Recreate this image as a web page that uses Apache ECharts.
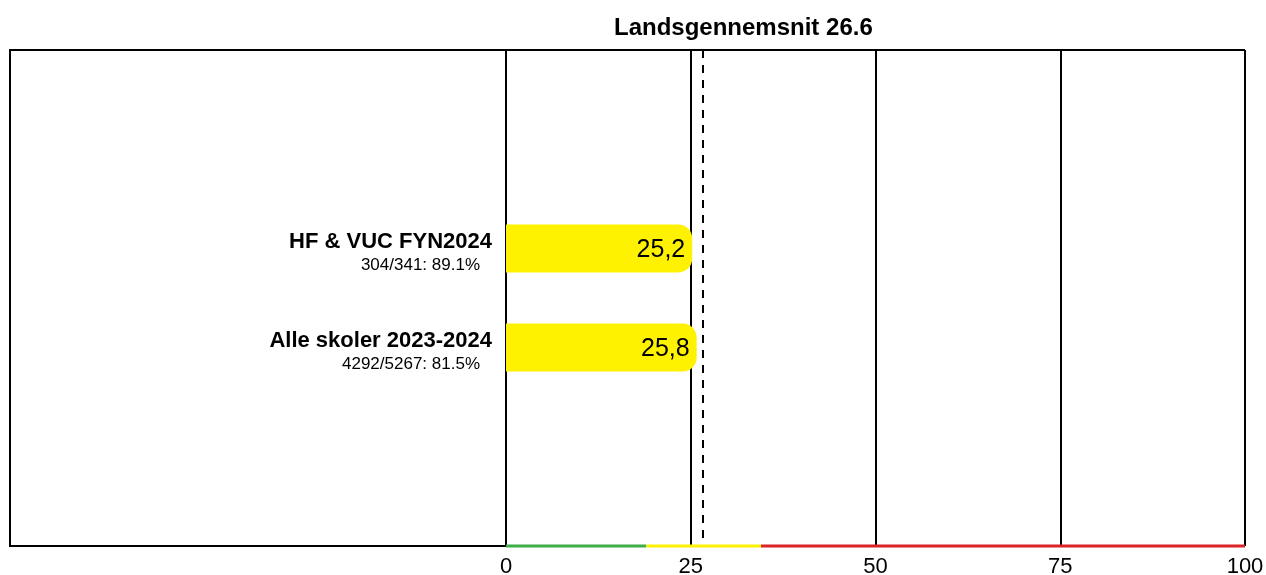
<!DOCTYPE html>
<html>
<head>
<meta charset="utf-8">
<script src="https://cdn.jsdelivr.net/npm/echarts@6/dist/echarts.min.js"></script>
<style>
  html, body { margin: 0; padding: 0; background: #fff; }
  #chart { width: 1266px; height: 575px; }
</style>
</head>
<body>
<div id="chart"></div>
<script>
// data
var categories = ['', '', 'HF & VUC FYN2024', 'Alle skoler 2023-2024', '', ''];
var subLabels = ['', '', '304/341: 89.1%', '4292/5267: 81.5%', '', ''];
var values = [null, null, 25.2, 25.8, null, null];
var average = 26.6;
var xTicks = [0, 25, 50, 75, 100];
var bandEdges = [0, 19, 34.5, 100];
var bandColors = ['#3fae49', '#fff200', '#dc2328'];

var FONT = '"Liberation Sans", Arial, sans-serif';

var chart = echarts.init(document.getElementById('chart'));

// coloured strip on the bottom axis
var bandSeries = [];
for (var i = 0; i < bandColors.length; i++) {
    bandSeries.push({
        type: 'line',
        xAxisIndex: 0,
        yAxisIndex: 1,
        data: [[bandEdges[i], 0], [bandEdges[i + 1], 0]],
        symbol: 'none',
        clip: false,
        silent: true,
        z: 5,
        lineStyle: { color: bandColors[i], width: 3 }
    });
}

var option = {
    animation: false,
    textStyle: { fontFamily: FONT },
    title: {
        text: 'Landsgennemsnit ' + average,
        left: 614,
        top: 16,
        padding: 0,
        textStyle: { fontFamily: FONT, fontSize: 24, fontWeight: 'bold', color: '#000' }
    },
    grid: { left: 506, right: 21, top: 50, bottom: 29, containLabel: false, outerBoundsMode: 'none' },
    xAxis: {
        type: 'value',
        min: xTicks[0],
        max: xTicks[xTicks.length - 1],
        interval: 25,
        axisLine: { show: false },
        axisTick: { show: false },
        axisLabel: { fontSize: 22, color: '#000', margin: 10, fontFamily: FONT },
        splitLine: { show: true, lineStyle: { color: '#000', width: 2 } }
    },
    yAxis: [{
        type: 'category',
        inverse: true,
        boundaryGap: false,
        data: categories,
        axisLine: { show: false },
        axisTick: { show: false },
        splitLine: { show: false },
        axisLabel: {
            margin: 14,
            interval: 0,
            formatter: function (v, idx) {
                if (!v) return '';
                return '{b|' + v + '}\n{s|' + subLabels[idx] + '}';
            },
            rich: {
                b: { fontSize: 22, fontWeight: 'bold', color: '#000', lineHeight: 33, align: 'right', fontFamily: FONT },
                s: { fontSize: 17, color: '#000', lineHeight: 13, align: 'right', padding: [0, 12, 0, 0], fontFamily: FONT }
            }
        }
    }, {
        type: 'value',
        min: 0,
        max: 1,
        show: false
    }],
    graphic: [{
        type: 'polyline',
        shape: { points: [[506, 546], [10, 546], [10, 50], [1245, 50]] },
        style: { stroke: '#000', lineWidth: 2, fill: null },
        z: 10
    }],
    series: [{
        type: 'bar',
        data: values,
        barWidth: 48,
        itemStyle: { color: '#fff200', borderRadius: [0, 14, 14, 0] },
        label: {
            show: true,
            position: 'insideRight',
            distance: 7,
            offset: [0, 2],
            fontSize: 25,
            color: '#000',
            fontFamily: FONT,
            formatter: function (p) {
                return p.value == null ? '' : String(p.value).replace('.', ',');
            }
        },
        markLine: {
            symbol: 'none',
            silent: true,
            label: { show: false },
            lineStyle: { color: '#000', width: 2, type: [8, 7] },
            data: [{ xAxis: average }]
        },
        z: 3
    }].concat(bandSeries)
};

chart.setOption(option);
</script>
</body>
</html>
